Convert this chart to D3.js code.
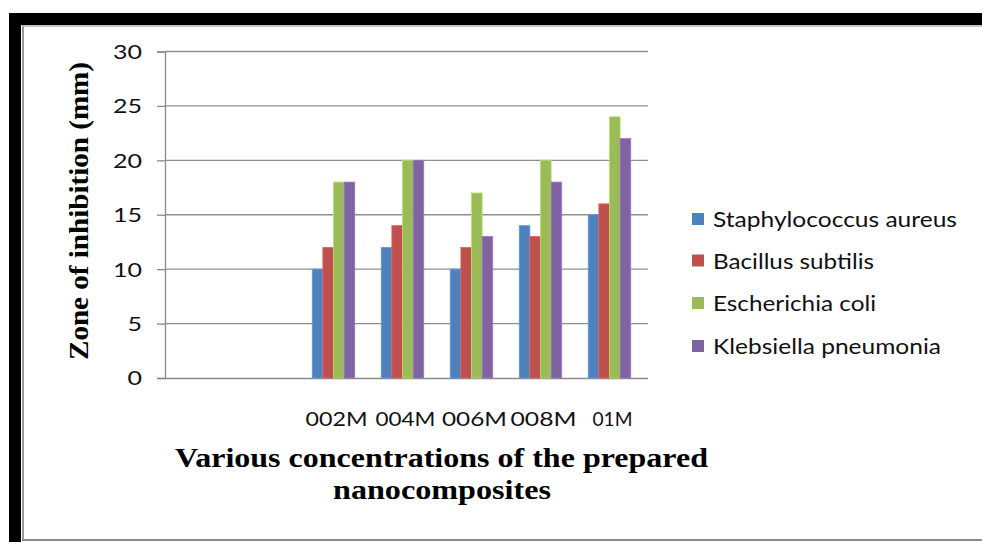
<!DOCTYPE html>
<html>
<head>
<meta charset="utf-8">
<script src="https://cdn.jsdelivr.net/npm/d3@7/dist/d3.min.js"></script>
<style>
  html, body { margin: 0; padding: 0; background: #fff; }
  svg { display: block; }
</style>
</head>
<body>
<svg id="chart" width="982" height="542"></svg>
<script>
// Zone of inhibition (mm) per concentration; the first two category slots are left empty
const categories = ["", "", "002M", "004M", "006M", "008M", "01M"];
const seriesNames = ["Staphylococcus aureus", "Bacillus subtilis", "Escherichia coli", "Klebsiella pneumonia"];
const staphylococcus = [null, null, 10, 12, 10, 14, 15];
const bacillus       = [null, null, 12, 14, 12, 13, 16];
const escherichia    = [null, null, 18, 20, 17, 20, 24];
const klebsiella     = [null, null, 18, 20, 13, 18, 22];
const yTicks = [0, 5, 10, 15, 20, 25, 30];
const colors = ["#4F81BD", "#C0504D", "#9BBB59", "#8064A2"];

const seriesValues = [staphylococcus, bacillus, escherichia, klebsiella];

const svg = d3.select("#chart");
const calibri = "Lato, 'Open Sans', sans-serif";
const serif = "'Liberation Serif', 'Times New Roman', serif";

// squeeze or stretch a text element to a fixed advance width
function fit(sel, w) {
  sel.attr("textLength", w).attr("lengthAdjust", "spacingAndGlyphs");
}

// ---- frame ----
svg.append("rect").attr("x", 9).attr("y", 13).attr("width", 973).attr("height", 12).attr("fill", "#000");
svg.append("rect").attr("x", 9).attr("y", 13).attr("width", 12).attr("height", 529).attr("fill", "#000");
svg.append("line").attr("x1", 23).attr("x2", 23).attr("y1", 25).attr("y2", 540)
  .attr("stroke", "#9a9a9a").attr("stroke-width", 2);
svg.append("line").attr("x1", 22).attr("x2", 982).attr("y1", 26).attr("y2", 26)
  .attr("stroke", "#b0b0b0").attr("stroke-width", 1.5);
svg.append("line").attr("x1", 22).attr("x2", 982).attr("y1", 540).attr("y2", 540)
  .attr("stroke", "#8a8a8a").attr("stroke-width", 2);

// ---- scales ----
const plotLeft = 165, plotRight = 648, plotTop = 51.5, plotBottom = 378;
const y = d3.scaleLinear().domain([0, 30]).range([plotBottom, plotTop]);
const x0 = d3.scaleBand().domain(d3.range(categories.length)).range([plotLeft - 4, plotRight - 4]);
const groupW = 42.5;
const x1 = d3.scaleBand().domain(d3.range(seriesNames.length)).range([0, groupW]);

// ---- gridlines ----
svg.append("g").selectAll("line").data(yTicks.filter(t => t > 0)).join("line")
  .attr("x1", plotLeft).attr("x2", plotRight)
  .attr("y1", d => y(d)).attr("y2", d => y(d))
  .attr("stroke", "#8f8f8f").attr("stroke-width", 1.3);

// ---- y axis ----
const yAxis = svg.append("g").attr("transform", `translate(${plotLeft},0)`)
  .call(d3.axisLeft(y).tickValues(yTicks).tickSize(8).tickPadding(15).tickFormat(d3.format("d")));
yAxis.select(".domain").attr("stroke", "#8a8a8a").attr("stroke-width", 1.3);
yAxis.selectAll(".tick line").attr("stroke", "#8a8a8a").attr("stroke-width", 1.3);
yAxis.selectAll(".tick text")
  .attr("font-family", calibri).attr("font-size", 19).attr("fill", "#111")
  .attr("dy", "0.36em")
  .each(function (d) { fit(d3.select(this), String(d).length * 14.5); });

// ---- x axis ----
svg.append("line").attr("x1", plotLeft).attr("x2", plotRight)
  .attr("y1", plotBottom + 0.5).attr("y2", plotBottom + 0.5)
  .attr("stroke", "#8a8a8a").attr("stroke-width", 1.3);
const labelWidths = { "002M": 62, "004M": 60, "006M": 65, "008M": 66, "01M": 40 };
svg.append("g").selectAll("text").data(categories.map((c, i) => ({ c, i })).filter(d => d.c))
  .join("text")
  .attr("x", d => x0(d.i) + x0.bandwidth() / 2 + 3)
  .attr("y", 425.5)
  .attr("text-anchor", "middle")
  .attr("font-family", calibri).attr("font-size", 19.5).attr("fill", "#111")
  .text(d => d.c)
  .each(function (d) { fit(d3.select(this), labelWidths[d.c]); });

// ---- bars ----
const groups = svg.append("g").selectAll("g")
  .data(categories.map((c, i) => i))
  .join("g")
  .attr("transform", i => `translate(${x0(i) + (x0.bandwidth() - groupW) / 2},0)`);
groups.selectAll("rect")
  .data(i => seriesValues.map((vals, s) => ({ s, v: vals[i] })).filter(d => d.v != null))
  .join("rect")
  .attr("x", d => x1(d.s))
  .attr("width", x1.bandwidth())
  .attr("y", d => y(d.v))
  .attr("height", d => y(0) - y(d.v))
  .attr("fill", d => colors[d.s])
  .attr("stroke", d => d3.color(colors[d.s]).brighter(0.5))
  .attr("stroke-width", 0.8);

// ---- legend ----
const legendWidths = [244, 161, 163, 228];
const legendBase = [227, 268.5, 311, 354];
const legend = svg.append("g").selectAll("g").data(seriesNames).join("g");
legend.append("rect")
  .attr("x", 692).attr("y", (d, i) => legendBase[i] - 14)
  .attr("width", 12).attr("height", 12)
  .attr("fill", (d, i) => colors[i]);
legend.append("text")
  .attr("x", 713).attr("y", (d, i) => legendBase[i])
  .attr("font-family", calibri).attr("font-size", 20.5).attr("fill", "#111")
  .text(d => d)
  .each(function (d, i) { fit(d3.select(this), legendWidths[i]); });

// ---- axis titles ----
const yTitle = svg.append("text")
  .attr("transform", "translate(88,211) rotate(-90)")
  .attr("text-anchor", "middle")
  .attr("font-family", serif).attr("font-weight", "bold").attr("font-size", 28)
  .attr("fill", "#000")
  .text("Zone of inhibition (mm)");
fit(yTitle, 298);

const xt1 = svg.append("text")
  .attr("x", 441.5).attr("y", 467)
  .attr("text-anchor", "middle")
  .attr("font-family", serif).attr("font-weight", "bold").attr("font-size", 27)
  .attr("fill", "#000")
  .text("Various concentrations of the prepared");
fit(xt1, 533);
const xt2 = svg.append("text")
  .attr("x", 442).attr("y", 499)
  .attr("text-anchor", "middle")
  .attr("font-family", serif).attr("font-weight", "bold").attr("font-size", 27)
  .attr("fill", "#000")
  .text("nanocomposites");
fit(xt2, 218);
</script>
</body>
</html>
